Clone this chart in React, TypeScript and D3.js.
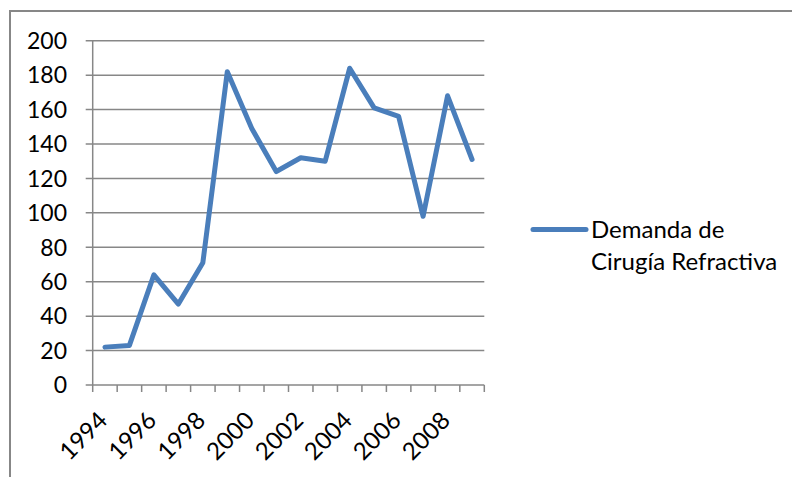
import React from "react";
import * as d3 from "d3";

const years = ["1994","1995","1996","1997","1998","1999","2000","2001","2002","2003","2004","2005","2006","2007","2008","2009"];
const demanda = [22, 23, 64, 47, 71, 182, 149, 124, 132, 130, 184, 161, 156, 98, 168, 131];
const yTicks = [0, 20, 40, 60, 80, 100, 120, 140, 160, 180, 200];
const seriesName = ["Demanda de", "Cirugía Refractiva"];

const W = 792, H = 477;
const plot = { left: 92.7, right: 484.3, top: 40.7, bottom: 385 };
const FONT = "Lato, 'Open Sans', sans-serif";
const GRID = "#878787";
const BLUE = "#4A7EBB";

export default function App() {
  const x = d3.scaleBand<string>().domain(years).range([plot.left, plot.right]).paddingInner(0).paddingOuter(0);
  const y = d3.scaleLinear().domain([0, 200]).range([plot.bottom, plot.top]);
  const cx = (yr: string) => (x(yr) as number) + x.bandwidth() / 2;
  const line = d3.line<number>().x((_, i) => cx(years[i])).y((d) => y(d));
  const boundaries = [...years.map((yr) => x(yr) as number), plot.right];

  return (
    <svg width={W} height={H} style={{ position: "absolute", left: 0, top: 0, background: "#fff" }}>
      {/* outer border */}
      <line x1={10} x2={W} y1={11} y2={11} stroke={GRID} strokeWidth={2} />
      <line x1={10} x2={10} y1={10} y2={H} stroke={GRID} strokeWidth={2} />

      {/* gridlines & y ticks */}
      {yTicks.map((t) => (
        <g key={t}>
          <line x1={plot.left - 7} x2={plot.right} y1={y(t)} y2={y(t)} stroke={GRID} strokeWidth={1.5} />
          <text x={67} y={y(t)} dy="0.36em" textAnchor="end" fontFamily={FONT} fontSize={23} fill="#000">{t}</text>
        </g>
      ))}
      {/* y axis */}
      <line x1={plot.left} x2={plot.left} y1={plot.top} y2={plot.bottom} stroke={GRID} strokeWidth={1.5} />
      {/* x ticks */}
      {boundaries.map((bx, i) => (
        <line key={i} x1={bx} x2={bx} y1={plot.bottom} y2={plot.bottom + 7} stroke={GRID} strokeWidth={1.5} />
      ))}
      {/* x labels */}
      {years.map((yr, i) => i % 2 === 0 ? (
        <text key={yr} transform={`translate(${cx(yr) + 4},${plot.bottom + 37}) rotate(-45)`} textAnchor="end"
          fontFamily={FONT} fontSize={24} fill="#000">{yr}</text>
      ) : null)}

      {/* series */}
      <path d={line(demanda) || ""} fill="none" stroke={BLUE} strokeWidth={5} strokeLinejoin="round" strokeLinecap="round" />

      {/* legend */}
      <line x1={533} x2={586} y1={229.5} y2={229.5} stroke={BLUE} strokeWidth={5} strokeLinecap="round" />
      <text x={591} y={237.5} fontFamily={FONT} fontSize={24} fill="#000">{seriesName[0]}</text>
      <text x={591} y={270} fontFamily={FONT} fontSize={24} fill="#000">{seriesName[1]}</text>
    </svg>
  );
}
